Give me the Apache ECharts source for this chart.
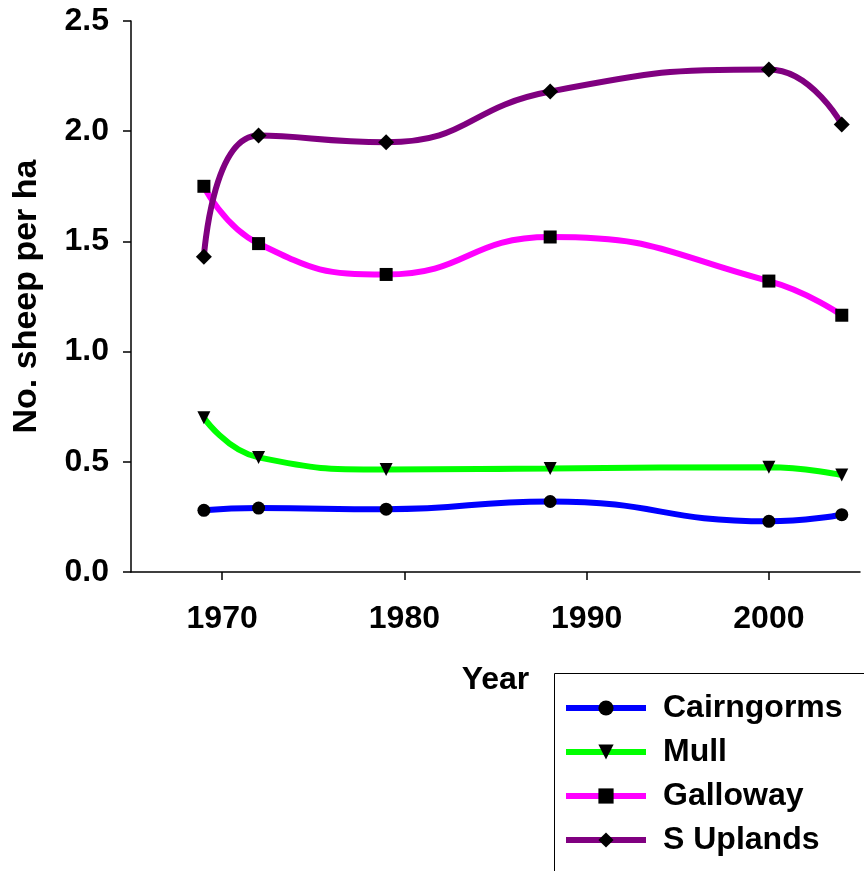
<!DOCTYPE html>
<html>
<head>
<meta charset="utf-8">
<script src="https://cdn.jsdelivr.net/npm/echarts@6/dist/echarts.min.js"></script>
<style>
  html, body { margin: 0; padding: 0; background: #fff; }
  #chart { width: 864px; height: 871px; }
</style>
</head>
<body>
<div id="chart"></div>
<script>
  // survey years
  const years = [1969, 1972, 1979, 1988, 2000, 2004]
  const yearTicks = [1970, 1980, 1990, 2000]

  // sheep per ha
  const cairngorms = [0.28, 0.29, 0.285, 0.32, 0.23, 0.26]
  const mull = [0.70, 0.52, 0.465, 0.47, 0.475, 0.44]
  const galloway = [1.75, 1.49, 1.35, 1.52, 1.32, 1.165]
  const sUplands = [1.43, 1.98, 1.95, 2.18, 2.28, 2.03]

  const font = '"Liberation Sans", Arial, sans-serif'

  function pairs(vals) {
    return years.map((y, i) => [y, vals[i]])
  }

  function makeSeries(name, vals, color, symbol, size, rotate) {
    return {
      name: name,
      type: 'line',
      data: pairs(vals),
      smooth: 0.5,
      symbol: symbol,
      symbolSize: size,
      symbolRotate: rotate || 0,
      showAllSymbol: true,
      lineStyle: { color: color, width: 6 },
      itemStyle: { color: '#000', borderWidth: 0 },
      emphasis: { disabled: true }
    }
  }

  const chart = echarts.init(document.getElementById('chart'))

  chart.setOption({
    animation: false,
    backgroundColor: '#fff',
    grid: {
      left: 131,
      right: 4,
      top: 21,
      bottom: 299,
      outerBoundsMode: 'none'
    },
    // legend frame runs off the bottom and right edge of the picture
    graphic: [{
      type: 'rect',
      z: 0,
      shape: { x: 554.5, y: 673.5, width: 400, height: 300 },
      style: { fill: '#fff', stroke: '#000', lineWidth: 1 }
    }],
    legend: {
      left: 554,
      top: 677,
      orient: 'vertical',
      padding: [15, 10, 0, 9],
      itemWidth: 80,
      itemHeight: 19,
      itemGap: 12,
      lineStyle: { width: 6 },
      textStyle: {
        fontFamily: font,
        fontWeight: 'bold',
        fontSize: 32,
        color: '#000',
        padding: [0, 0, 0, 12]
      },
      data: ['Cairngorms', 'Mull', 'Galloway', 'S Uplands']
    },
    xAxis: {
      type: 'value',
      min: 1965,
      max: 2005,
      name: 'Year',
      nameLocation: 'middle',
      nameGap: 92,
      nameTextStyle: { fontFamily: font, fontWeight: 'bold', fontSize: 32, color: '#000' },
      splitLine: { show: false },
      axisLine: { onZero: false, lineStyle: { color: '#000', width: 1.5 } },
      axisTick: { show: true, length: 8, customValues: yearTicks, lineStyle: { color: '#000', width: 1.5 } },
      axisLabel: {
        customValues: yearTicks,
        margin: 31,
        fontFamily: font,
        fontWeight: 'bold',
        fontSize: 32,
        color: '#000',
        formatter: v => String(v)
      }
    },
    yAxis: {
      type: 'value',
      min: 0,
      max: 2.5,
      interval: 0.5,
      name: 'No. sheep per ha',
      nameLocation: 'middle',
      nameGap: 87,
      nameTextStyle: { fontFamily: font, fontWeight: 'bold', fontSize: 34, color: '#000' },
      splitLine: { show: false },
      axisLine: { show: true, lineStyle: { color: '#000', width: 1.5 } },
      axisTick: { show: true, length: 8, lineStyle: { color: '#000', width: 1.5 } },
      axisLabel: {
        margin: 22,
        fontFamily: font,
        fontWeight: 'bold',
        fontSize: 32,
        color: '#000',
        formatter: v => v.toFixed(1)
      }
    },
    series: [
      makeSeries('Cairngorms', cairngorms, '#0000ff', 'circle', 13),
      makeSeries('Mull', mull, '#00ff00', 'triangle', 13, 180),
      makeSeries('Galloway', galloway, '#ff00ff', 'rect', 13),
      makeSeries('S Uplands', sUplands, '#800080', 'diamond', 16)
    ]
  })
</script>
</body>
</html>
